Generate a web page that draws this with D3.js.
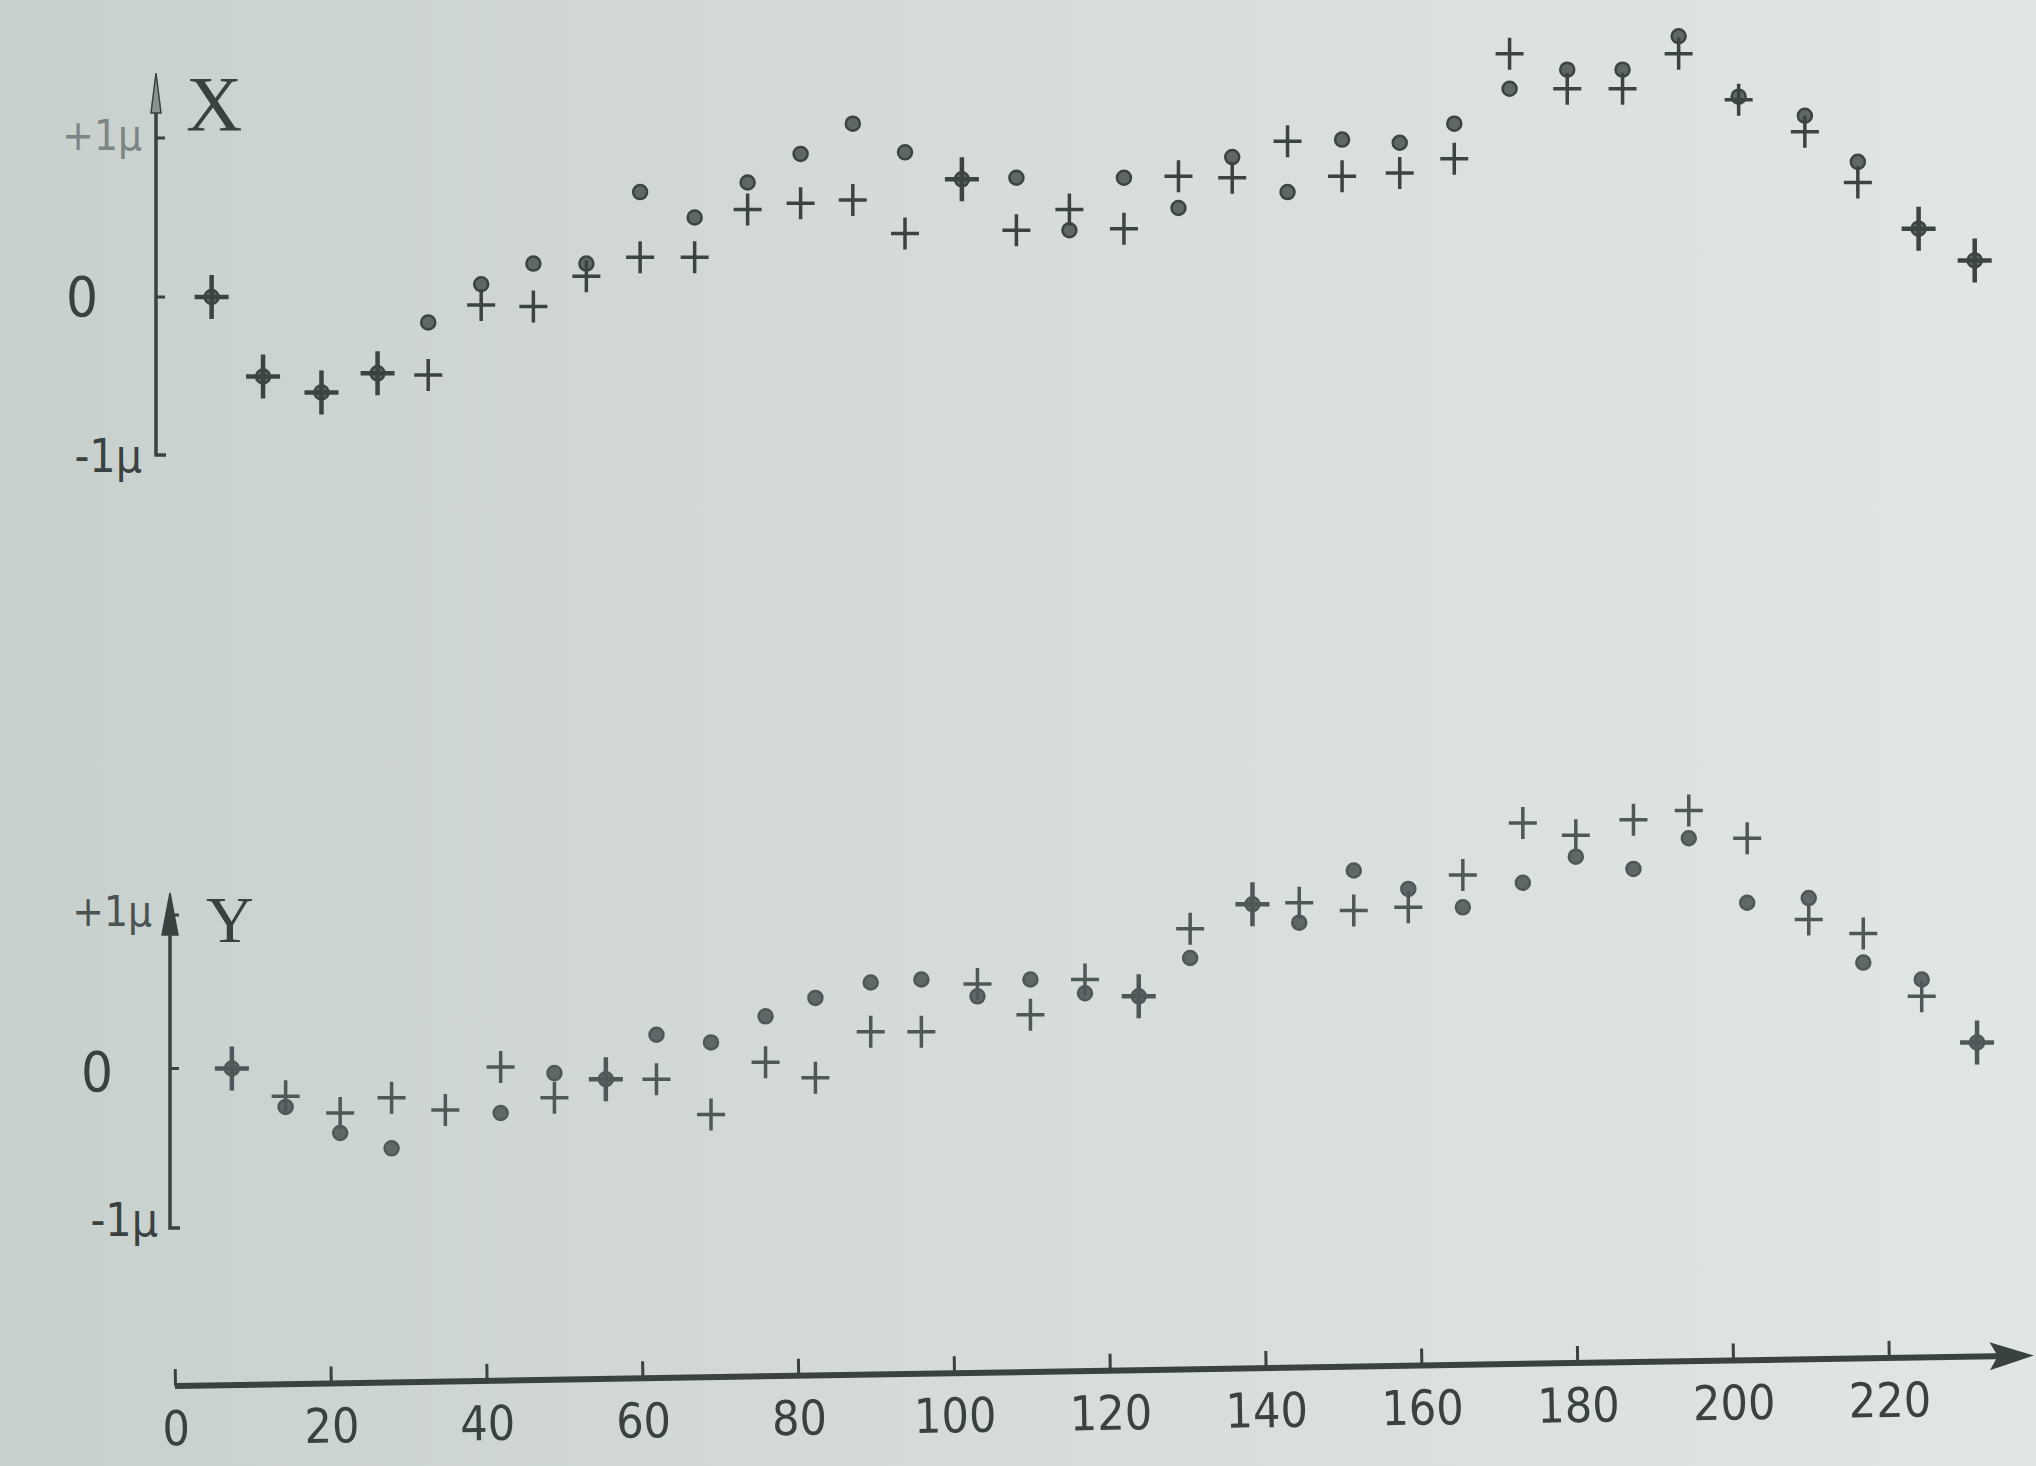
<!DOCTYPE html>
<html>
<head>
<meta charset="utf-8">
<script src="https://cdnjs.cloudflare.com/ajax/libs/d3/7.8.5/d3.min.js"></script>
<style>
  body { margin: 0; background: #d4dbd8; overflow: hidden; }
  svg { display: block; }
  .num { font-family: "DejaVu Sans Condensed", "Liberation Sans Narrow", "DejaVu Sans", sans-serif; }
  .big { font-family: "Liberation Serif", "DejaVu Serif", serif; }
</style>
</head>
<body>
<script>
// time positions of the points, read separately for each panel (the print is skewed)
var timeX = [4.7, 11.3, 18.8, 26.0, 32.5, 39.3, 46.0, 52.8, 59.7, 66.7, 73.5, 80.3, 87.0, 93.7, 101.0, 108.0, 114.8,
             121.8, 128.8, 135.7, 142.8, 149.8, 157.2, 164.2, 171.3, 178.7, 185.8, 193.0, 200.7, 209.2, 216.0, 223.8, 231.0];
var timeY = [7.3, 14.2, 21.2, 27.8, 34.7, 41.8, 48.7, 55.3, 61.8, 68.8, 75.8, 82.2, 89.3, 95.8, 103.0, 109.8, 116.8,
             123.7, 130.3, 138.3, 144.3, 151.3, 158.3, 165.3, 173.0, 179.8, 187.2, 194.3, 201.8, 209.7, 216.7, 224.2, 231.3];

// X deviation (micron) : "+" series and dot series
var crossX = [0.00, -0.50, -0.60, -0.48, -0.49, -0.05, -0.06, 0.13, 0.25, 0.25, 0.55, 0.59, 0.61, 0.40, 0.74, 0.42, 0.55,
              0.43, 0.76, 0.75, 0.98, 0.76, 0.78, 0.87, 1.53, 1.31, 1.31, 1.53, 1.24, 1.04, 0.72, 0.43, 0.23];
var dotX   = [0.00, -0.50, -0.60, -0.48, -0.16, 0.08, 0.21, 0.21, 0.66, 0.50, 0.72, 0.90, 1.09, 0.91, 0.74, 0.75, 0.42,
              0.75, 0.56, 0.88, 0.66, 0.99, 0.97, 1.09, 1.31, 1.43, 1.43, 1.64, 1.26, 1.14, 0.85, 0.43, 0.23];

// Y deviation (micron)
var crossY = [0.00, -0.18, -0.29, -0.19, -0.27, 0.01, -0.19, -0.07, -0.07, -0.30, 0.04, -0.06, 0.24, 0.24, 0.55, 0.35, 0.58,
              0.47, 0.91, 1.07, 1.08, 1.03, 1.05, 1.26, 1.60, 1.52, 1.62, 1.68, 1.50, 0.97, 0.88, 0.47, 0.17];
var dotY   = [0.00, -0.25, -0.42, -0.52, null, -0.29, -0.03, -0.07, 0.22, 0.17, 0.34, 0.46, 0.56, 0.58, 0.47, 0.58, 0.49,
              0.47, 0.72, 1.07, 0.95, 1.29, 1.17, 1.05, 1.21, 1.38, 1.30, 1.50, 1.08, 1.11, 0.69, 0.58, 0.17];

var timeTicks = [0, 20, 40, 60, 80, 100, 120, 140, 160, 180, 200, 220];

var w = 2036;
var h = 1466;

var svg = d3.select("body")
      .append("svg")
      .attr("width", w)
      .attr("height", h);

//paper tone, darker on the left
var grad = svg.append("defs")
      .append("linearGradient")
      .attr("id", "paper");
grad.append("stop").attr("offset", "0%").attr("stop-color", "#c8d0ce");
grad.append("stop").attr("offset", "45%").attr("stop-color", "#d4dbd8");
grad.append("stop").attr("offset", "100%").attr("stop-color", "#e0e6e3");
svg.append("rect").attr("width", w).attr("height", h).attr("fill", "url(#paper)");

//scales
var x = d3.scaleLinear().domain([0, 220]).range([175, 1889]);
var yTop = d3.scaleLinear().domain([-1, 1]).range([456, 138]);
var yBot = d3.scaleLinear().domain([-1, 1]).range([1222, 915]);

var ink = "#3a4141";

//vertical axis of one panel
function drawValueAxis(ax, y, top, bottom, arrowW, arrowH, arrowFill) {
  var g = svg.append("g").attr("stroke", ink).attr("fill", "none");
  g.append("path")
    .attr("d", "M" + ax + "," + (top + arrowH - 4) + "V" + bottom + "H" + (ax + 10))
    .attr("stroke-width", 3.5);
  g.append("path")
    .attr("d", "M" + ax + "," + top + "L" + (ax - arrowW) + "," + (top + arrowH) + "L" + (ax + arrowW) + "," + (top + arrowH) + "Z")
    .attr("fill", arrowFill)
    .attr("stroke-width", 1.5);
  [1, 0].forEach(function(v) {
    g.append("line")
      .attr("x1", ax).attr("x2", ax + 9)
      .attr("y1", y(v)).attr("y2", y(v))
      .attr("stroke-width", 3);
  });
}

drawValueAxis(156, yTop, 73, 455, 5, 40, "#8a9290");
drawValueAxis(170, yBot, 893, 1228, 8, 42, ink);

//axis texts
function label(cls, txt, tx, ty, size, anchor, fill) {
  svg.append("text")
    .attr("class", cls)
    .attr("x", tx).attr("y", ty)
    .attr("font-size", size)
    .attr("text-anchor", anchor)
    .attr("fill", fill)
    .text(txt);
}

label("num", "+1\u03bc", 142, 150, 42, "end", "#7d8584");
label("num", "0", 82, 316, 56, "middle", ink);
label("num", "-1\u03bc", 142, 472, 46, "end", ink);
label("big", "X", 186, 130, 78, "start", ink);

label("num", "+1\u03bc", 152, 926, 42, "end", "#4a5252");
label("num", "0", 97, 1091, 56, "middle", ink);
label("num", "-1\u03bc", 158, 1236, 46, "end", ink);
label("big", "Y", 206, 942, 66, "start", ink);

//points of one panel: crosses and dots, a coincident pair reads as a star
function drawPoints(times, crosses, dots, y, color) {
  var g = svg.append("g");

  g.selectAll("circle")
    .data(times.map(function(t, i) { return {t: t, v: dots[i]}; }).filter(function(d) { return d.v != null; }))
    .enter()
    .append("circle")
    .attr("cx", function(d) { return x(d.t); })
    .attr("cy", function(d) { return y(d.v); })
    .attr("r", 7)
    .attr("fill", "#5f6767")
    .attr("stroke", color)
    .attr("stroke-width", 2.5);

  g.selectAll("path")
    .data(times.map(function(t, i) { return {t: t, v: crosses[i], both: crosses[i] === dots[i]}; }))
    .enter()
    .append("path")
    .attr("transform", function(d) { return "translate(" + x(d.t) + "," + y(d.v) + ")"; })
    .attr("d", function(d) { return d.both ? "M-17,0H17M0,-22V22" : "M-14,0H14M0,-16V16"; })
    .attr("stroke", color)
    .attr("stroke-width", function(d) { return d.both ? 4.5 : 3.5; })
    .attr("fill", "none");
}

drawPoints(timeX, crossX, dotX, yTop, "#3c4343");
drawPoints(timeY, crossY, dotY, yBot, "#4f5858");

//time axis, slightly tilted like the print
var tAxis = svg.append("g")
      .attr("transform", "rotate(-0.94,175,1386) translate(0,1386)");

tAxis.append("line")
  .attr("x1", 175).attr("x2", 2010)
  .attr("y1", 0).attr("y2", 0)
  .attr("stroke", ink)
  .attr("stroke-width", 6);

tAxis.append("path")
  .attr("d", "M2034,0L1990,-14L1998,0L1990,14Z")
  .attr("fill", ink);

tAxis.append("g")
  .call(d3.axisBottom(x)
    .tickValues(timeTicks)
    .tickSizeInner(-17)
    .tickSizeOuter(0)
    .tickPadding(25))
  .call(function(g) {
    g.select(".domain").remove();
    g.selectAll(".tick line").attr("stroke", ink).attr("stroke-width", 3);
    g.selectAll(".tick text")
      .attr("class", "num")
      .attr("font-size", 48)
      .attr("fill", ink);
  });
</script>
</body>
</html>
